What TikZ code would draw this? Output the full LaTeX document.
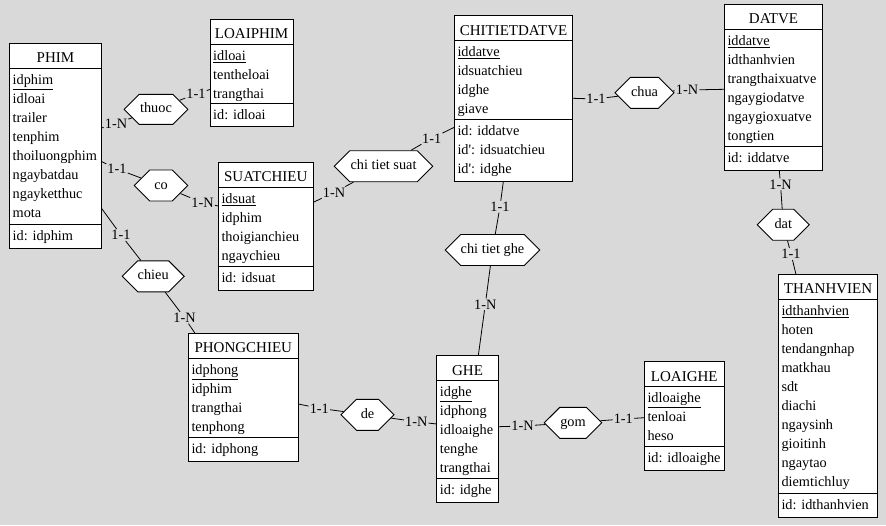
\documentclass[tikz,border=0pt]{standalone}
\usepackage{fontspec}
\setmainfont{Liberation Serif}
\usetikzlibrary{shapes.symbols,calc}
\definecolor{bg}{HTML}{D9D9D9}
\tikzset{
  entbox/.style={draw=black, fill=white, line width=0.9pt, inner sep=0pt, outer sep=0pt, anchor=north west},
  enttitle/.style={font=\fontsize{15}{18}\selectfont, inner sep=0pt, anchor=base},
  attr/.style={font=\fontsize{14.3}{17}\selectfont, inner sep=0pt, anchor=base west},
  divline/.style={line width=0.9pt},
  relhex/.style={signal, signal to=west and east, signal pointer angle=90, draw=black, fill=white,
    line width=0.9pt, inner sep=0pt, font=\fontsize{14.3}{17}\selectfont, text height=10pt, text depth=3pt,
    minimum height=31pt},
  card/.style={font=\fontsize{14.3}{17}\selectfont, inner sep=1pt, text height=9.5pt, text depth=0pt},
  conn/.style={line width=0.8pt},
}
\newcommand\erent[9]{%
  \pgfmathsetmacro\ew{#4-#2}\pgfmathsetmacro\eh{#5-#3}\pgfmathsetmacro\ed{#6-#3}%
  \node[entbox, minimum width=\ew pt, minimum height=\eh pt] (#1) at (#2,#3) {};
  \draw[divline] ($(#1.north west)+(0,25)$) -- ($(#1.north east)+(0,25)$);
  \draw[divline] ($(#1.north west)+(0,\ed)$) -- ($(#1.north east)+(0,\ed)$);
  \node[enttitle] (#1-t) at ($(#1.north)+(0,19.5)$) {#7};
  \foreach \attrtxt [count=\attrnum] in {#8} {\node[attr] (#1-a\attrnum) at ($(#1.north west)+(3,{25+16+(\attrnum-1)*19})$) {\attrtxt};}
  \foreach \attrtxt [count=\attrnum] in {#9} {\node[attr] (#1-k\attrnum) at ($(#1.north west)+(3,{\ed+16+(\attrnum-1)*19})$) {\attrtxt};}
}
\begin{document}
\begin{tikzpicture}[x=1pt,y=-1pt]
\fill[bg] (0,0) rectangle (886,525);
\useasboundingbox (0,0) rectangle (886,525);

\erent{phim}{9.5}{43.3}{101.5}{248.3}{224.3}{PHIM}{\underline{idphim},idloai,trailer,tenphim,thoiluongphim,ngaybatdau,ngayketthuc,mota}{id: idphim}
\erent{loaiphim}{210}{19.3}{293.3}{126.7}{103.3}{LOAIPHIM}{\underline{idloai},tentheloai,trangthai}{id: idloai}
\erent{suatchieu}{218.3}{162.3}{313.3}{290}{266.7}{SUATCHIEU}{\underline{idsuat},idphim,thoigianchieu,ngaychieu}{id: idsuat}
\erent{chitietdatve}{454.3}{15.7}{572.7}{181.7}{119.3}{CHITIETDATVE}{\underline{iddatve},idsuatchieu,idghe,giave}{id: iddatve,id\textquotesingle: idsuatchieu,id\textquotesingle: idghe}
\erent{datve}{724.3}{4.3}{822.7}{170.7}{146.3}{DATVE}{\underline{iddatve},idthanhvien,trangthaixuatve,ngaygiodatve,ngaygioxuatve,tongtien}{id: iddatve}
\erent{thanhvien}{778.3}{274.3}{877.7}{517.3}{493.3}{THANHVIEN}{\underline{idthanhvien},hoten,tendangnhap,matkhau,sdt,diachi,ngaysinh,gioitinh,ngaytao,diemtichluy}{id: idthanhvien}
\erent{phongchieu}{188.3}{333.3}{298.3}{461.7}{437.3}{PHONGCHIEU}{\underline{idphong},idphim,trangthai,tenphong}{id: idphong}
\erent{ghe}{436.7}{355.7}{498.3}{502.3}{478.3}{GHE}{\underline{idghe},idphong,idloaighe,tenghe,trangthai}{id: idghe}
\erent{loaighe}{644.3}{361.7}{724.3}{470}{446}{LOAIGHE}{\underline{idloaighe},tenloai,heso}{id: idloaighe}

\node[relhex, minimum width=63.7pt, minimum height=30pt] (thuoc) at (156,109.3) {thuoc};
\node[relhex, minimum width=53.7pt] (co) at (161,185.5) {co};
\node[relhex, minimum width=61.7pt] (chieu) at (153.2,276.3) {chieu};
\node[relhex, minimum width=98.4pt] (cts) at (383.5,166.2) {chi tiet suat};
\node[relhex, minimum width=93.6pt] (ctg) at (492.5,250) {chi tiet ghe};
\node[relhex, minimum width=59pt] (chua) at (644.5,92.8) {chua};
\node[relhex, minimum width=52pt] (dat) at (783.3,224.7) {dat};
\node[relhex, minimum width=53pt] (de) at (367.5,414.8) {de};
\node[relhex, minimum width=57.4pt] (gom) at (573,422.8) {gom};

\node[card] (c1) at (116,123.5) {1-N};
\node[card] (c2) at (196,94) {1-1};
\node[card] (c3) at (117,169) {1-1};
\node[card] (c4) at (202.5,202.7) {1-N};
\node[card] (c5) at (121,235) {1-1};
\node[card] (c6) at (184.5,317.7) {1-N};
\node[card] (c7) at (334,192.5) {1-N};
\node[card] (c8) at (431.7,138.3) {1-1};
\node[card] (c9) at (500,206.7) {1-1};
\node[card] (c10) at (485.3,304.3) {1-N};
\node[card] (c11) at (596,99) {1-1};
\node[card] (c12) at (687,90) {1-N};
\node[card] (c13) at (780.5,184.3) {1-N};
\node[card] (c14) at (791,254) {1-1};
\node[card] (c15) at (319.3,408.3) {1-1};
\node[card] (c16) at (416.3,421.7) {1-N};
\node[card] (c17) at (522.5,426) {1-N};
\node[card] (c18) at (623.3,419) {1-1};

\draw[conn] ($(phim.north east)+(0,84.7)$) -- (c1) -- (thuoc);
\draw[conn] (thuoc) -- (c2) -- ($(loaiphim.north west)+(0,70.2)$);
\draw[conn] ($(phim.north east)+(0,118.2)$) -- (c3) -- (co);
\draw[conn] (co) -- (c4) -- ($(suatchieu.north west)+(0,43.7)$);
\draw[conn] ($(phim.north east)+(0,165)$) -- (c5) -- (chieu);
\draw[conn] (chieu) -- (c6) -- ($(phongchieu.north west)+(6.7,0)$);
\draw[conn] ($(suatchieu.north east)+(0,40)$) -- (c7) -- (cts);
\draw[conn] (cts) -- (c8) -- ($(chitietdatve.north west)+(0,111.6)$);
\draw[conn] ($(chitietdatve.south west)+(49,0)$) -- (c9) -- (ctg);
\draw[conn] (ctg) -- (c10) -- ($(ghe.north west)+(41.6,0)$);
\draw[conn] ($(chitietdatve.north east)+(0,82.6)$) -- (c11) -- (chua);
\draw[conn] (chua) -- (c12) -- ($(datve.north west)+(0,85)$);
\draw[conn] ($(datve.south west)+(55,0)$) -- (c13) -- (dat);
\draw[conn] (dat) -- (c14) -- ($(thanhvien.north west)+(17.7,0)$);
\draw[conn] ($(phongchieu.north east)+(0,70.7)$) -- (c15) -- (de);
\draw[conn] (de) -- (c16) -- ($(ghe.north west)+(0,68.3)$);
\draw[conn] ($(ghe.north east)+(0,71)$) -- (c17) -- (gom);
\draw[conn] (gom) -- (c18) -- ($(loaighe.north west)+(0,56)$);
\end{tikzpicture}
\end{document}
